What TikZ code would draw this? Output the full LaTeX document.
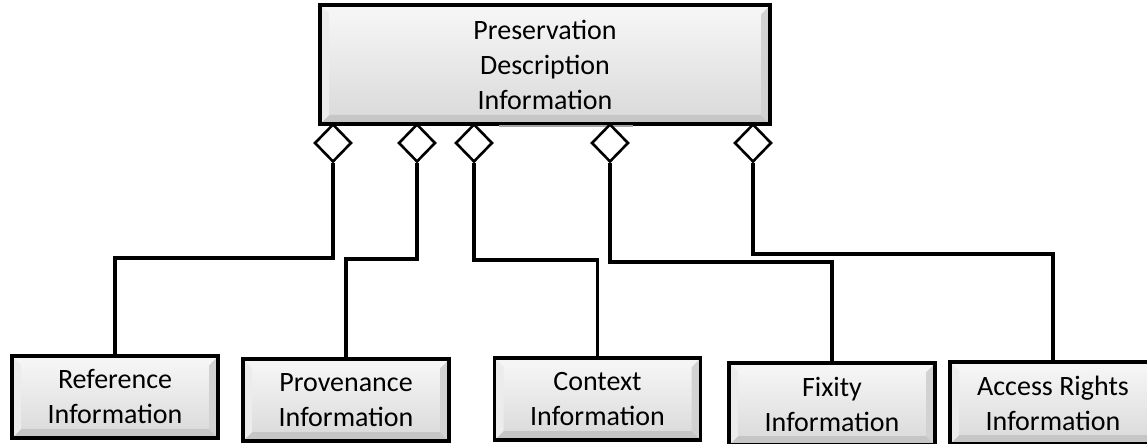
\documentclass[tikz,border=0pt]{standalone}
\usepackage{fontspec}
\setmainfont{Carlito}
\usetikzlibrary{shapes.geometric,calc}

\newcommand\bevw{4.5pt}
\tikzset{
  bevel/.style={path picture={
    \coordinate (nw) at (path picture bounding box.north west);
    \coordinate (ne) at (path picture bounding box.north east);
    \coordinate (sw) at (path picture bounding box.south west);
    \coordinate (se) at (path picture bounding box.south east);
    \fill[gray!45] (sw) -- (se) -- ($(se)+(-\bevw,\bevw)$) -- ($(sw)+(\bevw,\bevw)$) -- cycle;
    \fill[gray!35] (se) -- (ne) -- ($(ne)+(-\bevw,-\bevw)$) -- ($(se)+(-\bevw,\bevw)$) -- cycle;
    \fill[white!92!gray] (nw) -- (ne) -- ($(ne)+(-\bevw,-\bevw)$) -- ($(nw)+(\bevw,-\bevw)$) -- cycle;
    \fill[white!85!gray] (nw) -- (sw) -- ($(sw)+(\bevw,\bevw)$) -- ($(nw)+(\bevw,-\bevw)$) -- cycle;
  }},
  infobox/.style={draw, line width=1.6pt, bevel, top color=gray!6, bottom color=gray!30,
    inner sep=0pt, align=center, font=\fontsize{14pt}{17.5pt}\selectfont},
  agg/.style={draw, diamond, fill=white, line width=1.3pt, inner sep=0pt,
    minimum width=18.5pt, minimum height=19pt},
  conn/.style={line width=1.6pt}
}

\begin{document}
\begin{tikzpicture}[x=0.5pt,y=-0.5pt]
  \useasboundingbox (0,0) rectangle (1147,444);

  \node[infobox, minimum width=225pt, minimum height=59.5pt] (pdi) at (545,64.5)
    {Preservation\\Description\\Information};
  \draw[gray!70, line width=1pt] (499,126) -- (633,126);

  \node[infobox, minimum width=103pt, minimum height=41pt] (ref) at (115,397) {Reference\\Information};
  \node[infobox, minimum width=103pt, minimum height=41pt] (prov) at (346,400) {Provenance\\Information};
  \node[infobox, minimum width=103pt, minimum height=41pt] (ctx) at (597.5,399) {Context\\Information};
  \node[infobox, minimum width=103pt, minimum height=41pt] (fix) at (832,404) {Fixity\\Information};
  \node[infobox, minimum width=103pt, minimum height=41pt] (acc) at (1053,403) {Access Rights\\Information};

  \foreach \n/\x in {d1/333, d2/417, d3/474, d4/610, d5/753}
    \node[agg] (\n) at (\x,143) {};

  \foreach \d/\b/\y in {d1/ref/258, d2/prov/259, d3/ctx/260, d4/fix/262, d5/acc/254}
    \draw[conn] (\d.south) -- (\d.south |- 0,\y) -| (\b.north);
\end{tikzpicture}
\end{document}
